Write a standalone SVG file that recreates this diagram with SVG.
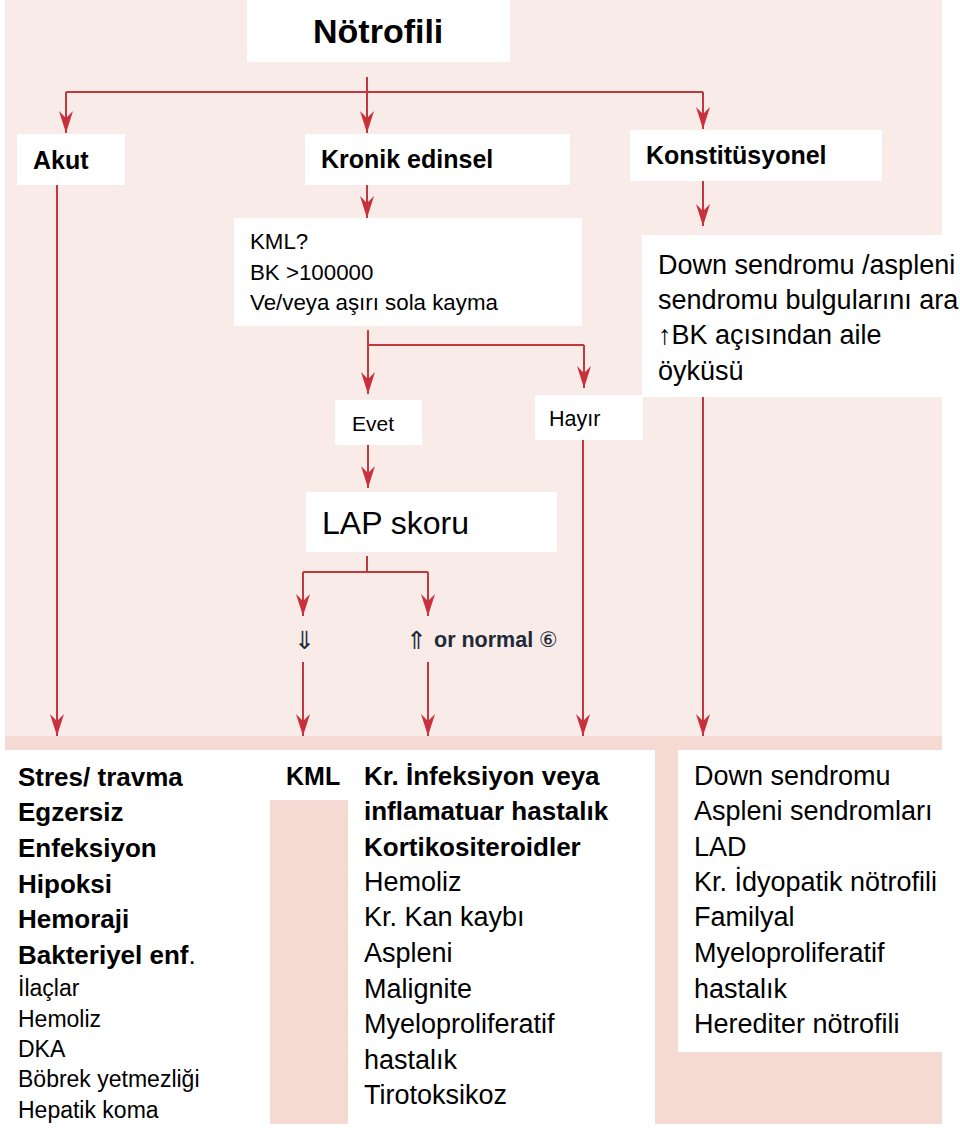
<svg xmlns="http://www.w3.org/2000/svg" width="960" height="1131" viewBox="0 0 960 1131">
<style>
.bg{fill:#f9ebe8}
.band{fill:#f4dad3}
.box{fill:#ffffff}
.t{font-family:"Liberation Sans",Arial,sans-serif;fill:#000}
.b{font-weight:bold}
.h{font-size:25px;font-weight:bold}
.l{font-size:26px}
.r{font-size:27px}
.s{font-size:23px}
.k{font-size:22.3px}
.con{stroke:#c0393f;stroke-width:2;fill:none}
.arr{marker-end:url(#ah)}
.sym{font-family:"DejaVu Sans","Noto Sans CJK SC",sans-serif;fill:#1f2a38}
</style>
<defs>
<marker id="ah" viewBox="-23 -8 24 16" refX="0" refY="0" markerWidth="24" markerHeight="16" markerUnits="userSpaceOnUse" orient="auto">
<path d="M0,0 L-22,-7 L-15,0 L-22,7 Z" fill="#c8303c"/>
</marker>
</defs>
<rect x="0" y="0" width="960" height="1131" fill="#ffffff"/>
<rect class="bg" x="5" y="0" width="937" height="736"/>
<rect class="band" x="5" y="736" width="937" height="14"/>
<rect class="band" x="270" y="800" width="78" height="324"/>
<rect class="band" x="655" y="750" width="23" height="374"/>
<rect class="band" x="655" y="1052" width="287" height="72"/>

<g id="connectors">
<line class="con arr" x1="367" y1="77" x2="367" y2="133"/>
<line class="con" x1="66" y1="92" x2="703" y2="92"/>
<line class="con arr" x1="66" y1="92" x2="66" y2="133"/>
<line class="con arr" x1="703" y1="92" x2="703" y2="129"/>
<line class="con arr" x1="57" y1="185" x2="57" y2="736"/>
<line class="con arr" x1="367" y1="185" x2="367" y2="218"/>
<line class="con" x1="368" y1="330" x2="368" y2="345"/>
<line class="con" x1="368" y1="345" x2="584" y2="345"/>
<line class="con arr" x1="368" y1="345" x2="368" y2="394"/>
<line class="con arr" x1="584" y1="345" x2="584" y2="388"/>
<line class="con arr" x1="368" y1="445" x2="368" y2="488"/>
<line class="con" x1="367" y1="556" x2="367" y2="572"/>
<line class="con" x1="303" y1="572" x2="428" y2="572"/>
<line class="con arr" x1="303" y1="572" x2="303" y2="616"/>
<line class="con arr" x1="428" y1="572" x2="428" y2="616"/>
<line class="con arr" x1="303" y1="662" x2="303" y2="736"/>
<line class="con arr" x1="428" y1="662" x2="428" y2="736"/>
<line class="con arr" x1="583" y1="440" x2="583" y2="736"/>
<line class="con arr" x1="703" y1="181" x2="703" y2="226"/>
<line class="con arr" x1="703" y1="397" x2="703" y2="736"/>
</g>

<g id="n-notrofili">
<rect class="box" x="247" y="0" width="263" height="62"/>
<text class="t b" x="313" y="43" font-size="34">Nötrofili</text>
</g>
<g id="n-akut">
<rect class="box" x="17" y="134" width="108" height="51"/>
<text class="t h" x="33" y="169">Akut</text>
</g>
<g id="n-kronik">
<rect class="box" x="305" y="134" width="265" height="51"/>
<text class="t h" x="321" y="168">Kronik edinsel</text>
</g>
<g id="n-konst">
<rect class="box" x="630" y="130" width="252" height="51"/>
<text class="t h" x="646" y="164">Konstitüsyonel</text>
</g>
<g id="n-kml">
<rect class="box" x="234" y="218" width="348" height="108"/>
<text class="t k" x="250" y="249">KML?</text>
<text class="t k" x="250" y="280">BK &gt;100000</text>
<text class="t k" x="250" y="310">Ve/veya aşırı sola kayma</text>
</g>
<g id="n-down">
<rect class="box" x="642" y="235" width="318" height="162"/>
<text class="t r" x="658" y="274">Down sendromu /aspleni</text>
<text class="t r" x="658" y="309">sendromu bulgularını ara</text>
<text class="t r" x="658" y="344">↑BK açısından aile</text>
<text class="t r" x="658" y="380">öyküsü</text>
</g>
<g id="n-evet">
<rect class="box" x="335" y="400" width="87" height="45"/>
<text class="t" x="352" y="431" font-size="21">Evet</text>
</g>
<g id="n-hayir">
<rect class="box" x="535" y="395" width="108" height="45"/>
<text class="t" x="549" y="426" font-size="21.5">Hayır</text>
</g>
<g id="n-lap">
<rect class="box" x="306" y="492" width="251" height="60"/>
<text class="t" x="322" y="534" font-size="32">LAP skoru</text>
</g>
<g id="n-low">
<text class="sym" x="294" y="649" font-size="25">⇓</text>
</g>
<g id="n-high">
<text class="sym" x="406" y="649" font-size="25">⇑</text>
<text x="434" y="647" font-family="Liberation Sans,Arial,sans-serif" font-weight="bold" font-size="21.5" fill="#1f2a38">or normal</text>
<text class="sym" x="539" y="647" font-size="21">⑥</text>
</g>

<g id="n-akut-list">
<text class="t l b" x="18" y="786">Stres/ travma</text>
<text class="t l b" x="18" y="821">Egzersiz</text>
<text class="t l b" x="18" y="857">Enfeksiyon</text>
<text class="t l b" x="18" y="893">Hipoksi</text>
<text class="t l b" x="18" y="928">Hemoraji</text>
<text class="t l" x="18" y="964"><tspan font-weight="bold">Bakteriyel enf</tspan>.</text>
<text class="t s" x="18" y="996">İlaçlar</text>
<text class="t s" x="18" y="1027">Hemoliz</text>
<text class="t s" x="18" y="1057">DKA</text>
<text class="t s" x="18" y="1087">Böbrek yetmezliği</text>
<text class="t s" x="18" y="1118">Hepatik koma</text>
</g>
<g id="n-kml-result">
<text class="t h" x="286" y="785">KML</text>
</g>
<g id="n-kronik-list">
<rect class="box" x="348" y="750" width="307" height="375"/>
<text class="t l b" x="364" y="785">Kr. İnfeksiyon veya</text>
<text class="t l b" x="364" y="820">inflamatuar hastalık</text>
<text class="t l b" x="364" y="856">Kortikositeroidler</text>
<text class="t r" x="364" y="891">Hemoliz</text>
<text class="t r" x="364" y="926">Kr. Kan kaybı</text>
<text class="t r" x="364" y="962">Aspleni</text>
<text class="t r" x="364" y="998">Malignite</text>
<text class="t r" x="364" y="1033">Myeloproliferatif</text>
<text class="t r" x="364" y="1069">hastalık</text>
<text class="t r" x="364" y="1104">Tirotoksikoz</text>
</g>
<g id="n-konst-list">
<rect class="box" x="678" y="750" width="282" height="302"/>
<text class="t r" x="694" y="785">Down sendromu</text>
<text class="t r" x="694" y="820">Aspleni sendromları</text>
<text class="t r" x="694" y="856">LAD</text>
<text class="t r" x="694" y="891">Kr. İdyopatik nötrofili</text>
<text class="t r" x="694" y="926">Familyal</text>
<text class="t r" x="694" y="962">Myeloproliferatif</text>
<text class="t r" x="694" y="998">hastalık</text>
<text class="t r" x="694" y="1033">Herediter nötrofili</text>
</g>
</svg>
